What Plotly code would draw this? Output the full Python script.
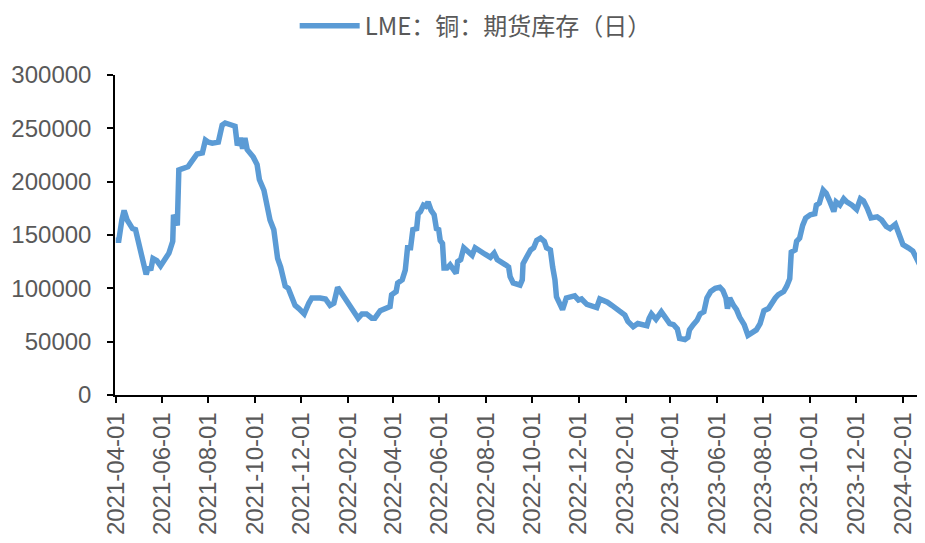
import plotly.graph_objects as go

dates = [
    "2021-04-01", "2021-04-05", "2021-04-09", "2021-04-12", "2021-04-16", "2021-04-23", "2021-04-27",
    "2021-05-02", "2021-05-06", "2021-05-11", "2021-05-14", "2021-05-17", "2021-05-20", "2021-05-25",
    "2021-05-30", "2021-06-05", "2021-06-10", "2021-06-15", "2021-06-16", "2021-06-21", "2021-06-23",
    "2021-06-27", "2021-07-05", "2021-07-10", "2021-07-17", "2021-07-24", "2021-07-28", "2021-08-01",
    "2021-08-06", "2021-08-14", "2021-08-19", "2021-08-23", "2021-08-30", "2021-09-05", "2021-09-08",
    "2021-09-12", "2021-09-15", "2021-09-18", "2021-09-21", "2021-09-25", "2021-09-29", "2021-10-04",
    "2021-10-07", "2021-10-13", "2021-10-16", "2021-10-21", "2021-10-26", "2021-10-31", "2021-11-04",
    "2021-11-10", "2021-11-14", "2021-11-19", "2021-11-23", "2021-11-28", "2021-12-01", "2021-12-05",
    "2021-12-11", "2021-12-15", "2021-12-26", "2022-01-02", "2022-01-08", "2022-01-13", "2022-01-18",
    "2022-01-21", "2022-01-26", "2022-01-31", "2022-02-06", "2022-02-10", "2022-02-14", "2022-02-19",
    "2022-02-25", "2022-03-04", "2022-03-08", "2022-03-15", "2022-03-22", "2022-03-28", "2022-03-30",
    "2022-04-05", "2022-04-07", "2022-04-13", "2022-04-17", "2022-04-20", "2022-04-24", "2022-04-27",
    "2022-05-02", "2022-05-04", "2022-05-07", "2022-05-11", "2022-05-14", "2022-05-17", "2022-05-21",
    "2022-05-25", "2022-05-28", "2022-05-31", "2022-06-02", "2022-06-05", "2022-06-07", "2022-06-11",
    "2022-06-15", "2022-06-19", "2022-06-23", "2022-06-25", "2022-06-29", "2022-07-03", "2022-07-09",
    "2022-07-14", "2022-07-18", "2022-07-25", "2022-07-31", "2022-08-07", "2022-08-12", "2022-08-16",
    "2022-08-21", "2022-08-27", "2022-08-31", "2022-09-02", "2022-09-06", "2022-09-11", "2022-09-15",
    "2022-09-18", "2022-09-19", "2022-09-25", "2022-09-29", "2022-10-03", "2022-10-07", "2022-10-12",
    "2022-10-17", "2022-10-20", "2022-10-25", "2022-10-28", "2022-10-31", "2022-11-02", "2022-11-07",
    "2022-11-10", "2022-11-15", "2022-11-22", "2022-11-26", "2022-12-01", "2022-12-05", "2022-12-12",
    "2022-12-18", "2022-12-25", "2022-12-29", "2023-01-03", "2023-01-08", "2023-01-14", "2023-01-20",
    "2023-01-27", "2023-01-31", "2023-02-04", "2023-02-11", "2023-02-17", "2023-02-24", "2023-03-01",
    "2023-03-04", "2023-03-07", "2023-03-13", "2023-03-20", "2023-03-25", "2023-03-31", "2023-04-05",
    "2023-04-10", "2023-04-13", "2023-04-20", "2023-04-24", "2023-04-26", "2023-05-01", "2023-05-06",
    "2023-05-10", "2023-05-15", "2023-05-19", "2023-05-24", "2023-05-30", "2023-06-05", "2023-06-09",
    "2023-06-13", "2023-06-15", "2023-06-18", "2023-06-23", "2023-06-27", "2023-07-01", "2023-07-07",
    "2023-07-12", "2023-07-17", "2023-07-23", "2023-07-28", "2023-08-02", "2023-08-08", "2023-08-12",
    "2023-08-17", "2023-08-21", "2023-08-28", "2023-09-01", "2023-09-05", "2023-09-07", "2023-09-12",
    "2023-09-14", "2023-09-18", "2023-09-22", "2023-09-26", "2023-10-02", "2023-10-08", "2023-10-10",
    "2023-10-14", "2023-10-19", "2023-10-23", "2023-10-28", "2023-11-02", "2023-11-05", "2023-11-10",
    "2023-11-15", "2023-11-19", "2023-11-26", "2023-12-02", "2023-12-07", "2023-12-11", "2023-12-16",
    "2023-12-21", "2023-12-29", "2024-01-04", "2024-01-10", "2024-01-15", "2024-01-22", "2024-01-27",
    "2024-02-01", "2024-02-08", "2024-02-14", "2024-02-21", "2024-02-26", "2024-02-29",
]

stock = [
    145000, 145000, 164000, 173000, 164000, 156000, 155000,
    139000, 127000, 113000, 120000, 117000, 128000, 126000,
    121000, 127000, 133000, 144000, 169000, 159000, 211000,
    212000, 214000, 219000, 226000, 227000, 239000, 237000,
    236000, 237000, 253000, 255000, 254000, 252000, 234000,
    241000, 231000, 241000, 230000, 227000, 223000, 216000,
    202000, 192000, 181000, 164000, 155000, 128000, 120000,
    102000, 100000, 89000, 84000, 81000, 78000, 76000,
    86000, 91000, 91000, 90000, 84000, 86000, 101000,
    98000, 92000, 87000, 80000, 77000, 72000, 76000,
    76000, 72000, 72000, 79000, 81000, 83000, 94000,
    97000, 105000, 108000, 117000, 138000, 138000, 155000,
    156000, 170000, 172000, 178000, 177000, 181000, 173000,
    169000, 156000, 155000, 145000, 142000, 119000, 119000,
    122000, 117000, 114000, 125000, 127000, 138000, 134000,
    131000, 138000, 134000, 132000, 129000, 133000, 127000,
    124000, 122000, 120000, 111000, 105000, 104000, 103000,
    108000, 123000, 131000, 136000, 138000, 145000, 147000,
    144000, 138000, 136000, 120000, 108000, 92000, 84000,
    80000, 91000, 92000, 93000, 89000, 90000, 85000,
    83000, 82000, 90000, 89000, 87000, 84000, 81000,
    77000, 75000, 69000, 64000, 67000, 66000, 65000,
    72000, 76000, 71000, 78000, 73000, 67000, 66000,
    62000, 53000, 52000, 54000, 61000, 66000, 70000,
    76000, 78000, 91000, 97000, 100000, 101000, 98000,
    91000, 81000, 91000, 84000, 80000, 73000, 66000,
    56000, 59000, 61000, 67000, 79000, 81000, 86000,
    91000, 94000, 97000, 102000, 109000, 134000, 136000,
    144000, 147000, 159000, 166000, 169000, 170000, 178000,
    180000, 192000, 189000, 181000, 172000, 181000, 178000,
    184000, 181000, 178000, 174000, 184000, 182000, 175000,
    166000, 167000, 164000, 158000, 156000, 160000, 152000,
    141000, 138000, 135000, 125000, 129000, 122000,
]

series_name = "LME：铜：期货库存（日）"
y_ticks = [0, 50000, 100000, 150000, 200000, 250000, 300000]

fig = go.Figure()
fig.add_trace(go.Scatter(
    x=dates, y=stock, mode="lines", name=series_name,
    line=dict(color="#5B9BD5", width=5.5, shape="linear"),
))

tick_font = dict(family="Liberation Sans, Arial, sans-serif", size=24, color="#595959")

# the page body adds an 8px offset, so the figure is sized to fill the window
fig.update_layout(
    width=917, height=535,
    margin=dict(l=107, r=0, t=67, b=148, autoexpand=False),
    paper_bgcolor="white", plot_bgcolor="white",
    showlegend=True,
    legend=dict(
        orientation="h", xref="container", x=0.51, xanchor="center",
        yref="container", y=0.966, yanchor="middle",
        font=dict(family="Noto Sans CJK SC, sans-serif", size=24, color="#595959"),
        itemwidth=60,
    ),
    xaxis=dict(
        type="date", automargin=False,
        range=["2021-03-31", "2024-03-01"],
        tick0="2021-04-01", dtick="M2", tickformat="%Y-%m-%d",
        tickangle=-90,
        showgrid=False, zeroline=False,
        showline=True, linecolor="#000000", linewidth=1.5,
        ticks="outside", ticklen=6, tickcolor="#000000", tickwidth=1.5,
        tickfont=tick_font,
    ),
    yaxis=dict(
        range=[0, 300000], automargin=False,
        tickvals=y_ticks, ticktext=[str(v) for v in y_ticks],
        showgrid=False, zeroline=False,
        showline=True, linecolor="#000000", linewidth=1.5,
        ticks="outside", ticklen=6, tickcolor="#000000", tickwidth=1.5,
        ticklabelstandoff=11,
        tickfont=tick_font,
    ),
)

fig.write_html("out.html")
